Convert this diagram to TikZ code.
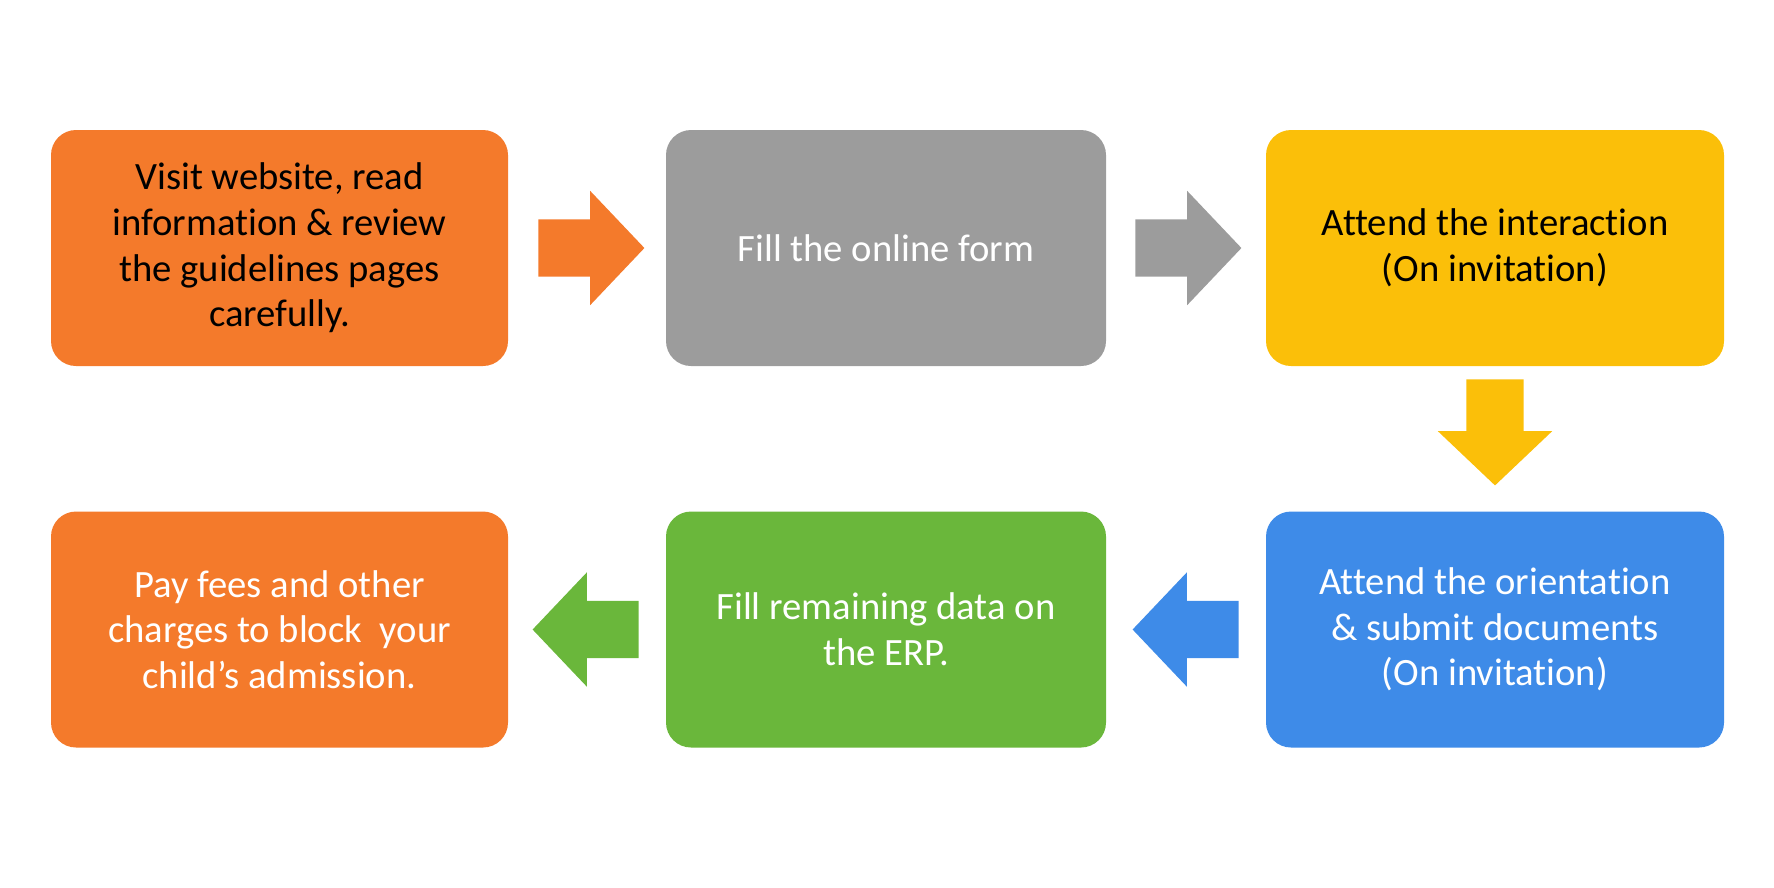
\documentclass[tikz,border=0pt]{standalone}
\usepackage{fontspec}
\setmainfont{Carlito}[Ligatures=NoCommon]
\usetikzlibrary{calc,shapes.arrows}
\definecolor{orng}{HTML}{F47A2B}
\definecolor{gry}{HTML}{9C9C9C}
\definecolor{yllw}{HTML}{FBBF09}
\definecolor{blu}{HTML}{3E8BE8}
\definecolor{grn}{HTML}{6AB73B}

\begin{document}
\begin{tikzpicture}[x=0.1mm,y=-0.1mm,
  box/.style={rectangle,rounded corners=2.5mm,minimum height=23.6mm,align=center,
    inner sep=0pt,font=\fontsize{11}{13}\selectfont},
  blockarrow/.style={single arrow,inner sep=2.8mm,minimum height=10.6mm,anchor=tail,
    single arrow head extend=2.85mm,single arrow tip angle=93}]
\useasboundingbox (0,0) rectangle (1774,887);
% top row
\node[box,fill=orng,minimum width=45.7mm] (visit) at (279.5,248) {Visit website, read\\information \& review\\the guidelines pages\\carefully.};
\node[box,fill=gry,text=white,minimum width=44mm] (form) at (886,248) {Fill the online form};
\node[box,fill=yllw,minimum width=45.8mm] (interact) at (1495,248) {Attend the interaction\\(On invitation)};
% bottom row
\node[box,fill=blu,text=white,minimum width=45.8mm] (orient) at (1495,629.5) {Attend the orientation\\\& submit documents\\(On invitation)};
\node[box,fill=grn,text=white,minimum width=44mm] (erp) at (886,629.5) {Fill remaining data on\\the ERP.};
\node[box,fill=orng,text=white,minimum width=45.7mm] (fees) at (279.5,629.5) {Pay fees and other\\charges to block~ your\\child’s admission.};
% arrows
\node[blockarrow,fill=orng] (a1) at ($(visit.east)+(29,0)$) {};
\node[blockarrow,fill=gry] (a2) at ($(form.east)+(28,0)$) {};
\node[blockarrow,fill=yllw,shape border rotate=270] (a3) at ($(interact.south)+(0,12)$) {};
\node[blockarrow,fill=blu,shape border rotate=180] (a4) at ($(orient.west)+(-26,0)$) {};
\node[blockarrow,fill=grn,shape border rotate=180] (a5) at ($(erp.west)+(-26,0)$) {};
\end{tikzpicture}
\end{document}
